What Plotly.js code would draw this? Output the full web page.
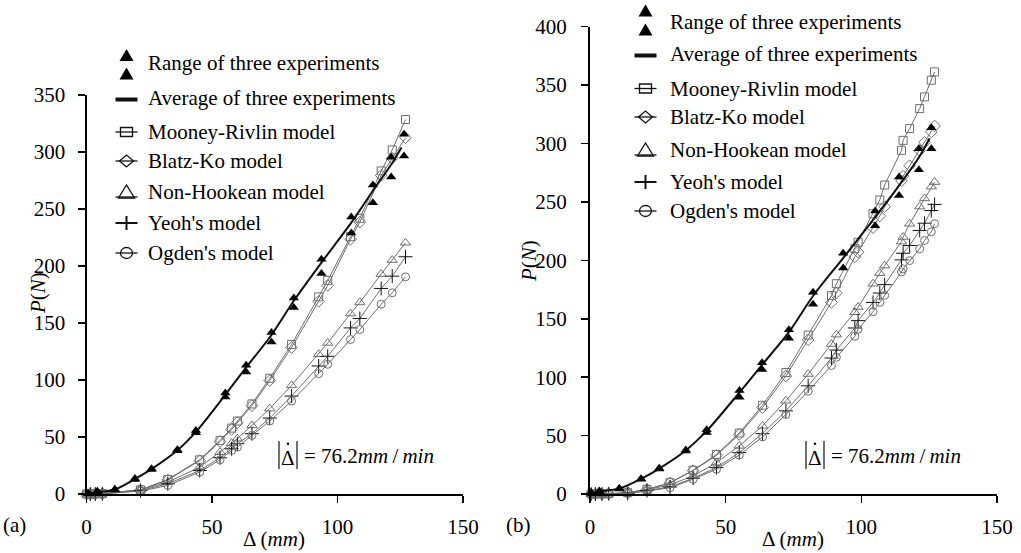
<!DOCTYPE html>
<html>
<head>
<meta charset="utf-8">
<script src="https://cdn.plot.ly/plotly-3.0.1.min.js"></script>
<style>
  html, body { margin: 0; padding: 0; background: #fff; }
  #chart { width: 1021px; height: 553px; }
</style>
</head>
<body>
<div id="chart"></div>
<script>
// ---- Panel (a): experiments ----
const dispExpA  = [0.7, 4.3, 11.3, 19.3, 25.9, 36.2, 43.6, 55.3, 63.6, 73.7, 82.6, 93.6, 105.5, 114.1, 121.4, 126.5];
const upperExpA = [0.7, 2.5, 4.2, 13.5, 22.1, 38.8, 55.8, 88.6, 112.9, 141.7, 172, 206, 243, 271, 295.4, 315.6];
const lowerExpA = [0.3, 1.5, 3.5, 12.7, 21.5, 38.0, 53.8, 85.0, 107.0, 133.4, 163.6, 193.5, 229, 255.5, 278, 296.6];
const dispAvgA  = [0, 4.3, 11.3, 19.3, 25.9, 36.2, 43.6, 55.3, 63.6, 73.7, 82.6, 93.6, 105.5, 114.1, 121.4, 125.5];
const avgExpA   = [0, 1.5, 4, 13.2, 21.8, 38.3, 54.5, 87, 111, 139.5, 169.5, 203, 238, 266, 289, 304];

// ---- Panel (a): hyperelastic models ----
const dispModA   = [0, 1.5, 3.5, 6.3, 21.5, 32.4, 45.1, 53.2, 57.8, 60.1, 65.9, 73, 81.7, 92.5, 96.1, 105.2, 108.9, 117.4, 121.8, 127.1];
const mooneyA    = [0, 0, 0, 0.3, 3.7, 12.7, 30, 47, 57.8, 64, 79, 101.5, 131.2, 172.9, 187.4, 225.7, 241.8, 283.4, 301.8, 328.5];
const blatzA     = [0, 0, 0, 0.3, 3.5, 12.3, 29.3, 46, 56.6, 62.6, 77.5, 99.5, 128.5, 169, 183, 223.5, 238.5, 279.5, 294.5, 312.5];
const neoHookA   = [0, 0, 0, 0.2, 3.7, 10.4, 23.5, 36.7, 44.6, 48.5, 60.2, 74.9, 95.3, 122.6, 132.5, 158.3, 168, 192.9, 205.2, 220.4];
const yeohA      = [0, 0, 0, 0.2, 3, 9, 20.6, 31.8, 39.7, 44.1, 52.9, 66.6, 85.9, 112.3, 120.8, 145.7, 154, 180.3, 191.1, 208.1];
const ogdenA     = [0, 0, 0, 0.2, 2.5, 7.5, 19.2, 30, 38.2, 41.1, 51.4, 64, 81.5, 105.6, 113.8, 135.5, 144.3, 166.5, 176.5, 190.5];

// ---- Panel (b): experiments ----
const dispExpB  = [0.4, 3.4, 10.8, 18.8, 25.5, 35.3, 43, 55.1, 63.4, 73.3, 82.2, 93.3, 105.1, 113.9, 121.2, 125.8];
const upperExpB = [1, 2.6, 4.9, 13.1, 22, 37.7, 54.9, 88.7, 112.3, 140.6, 172.6, 206.1, 242.3, 271.3, 295.6, 313.6];
const lowerExpB = [0.5, 2, 4.2, 12.6, 21.5, 36.9, 52.6, 82.9, 106.5, 133.3, 162.4, 193.4, 229.6, 255.6, 277.6, 295.6];
const dispAvgB  = [0, 3.4, 10.8, 18.8, 25.5, 35.3, 43, 55.1, 63.4, 73.3, 82.2, 93.3, 105.1, 113.9, 121.2, 125.2];
const avgExpB   = [0, 2.3, 4.6, 12.9, 21.8, 37.3, 54, 87, 110.5, 138.5, 169.5, 202, 237, 264, 288, 304.5];

// ---- Panel (b): hyperelastic models ----
const dispModB   = [0.4, 2, 4.4, 6.9, 13.9, 21, 29.5, 38, 46.6, 55, 63.6, 72.2, 80.4, 89, 90.8, 97.6, 98.8, 104.3, 106.8, 108.6, 114.8, 115.4, 117.8, 121.5, 123.3, 125.8, 127];
const mooneyB    = [0, 0, 0, 0.3, 1.1, 4, 9.7, 20.3, 33.8, 52.2, 76, 104, 136, 169.8, 180, 210, 215.5, 239.9, 251.7, 264.5, 294.2, 302.7, 312.8, 329.9, 339.9, 354.2, 361.3];
const blatzB     = [0, 0, 0, 0.3, 1.1, 3.9, 9.5, 20, 33, 51, 74, 101, 132, 164, 172, 203, 207, 228, 238, 246, 268, 272, 281, 294, 301, 310, 315];
const neoHookB   = [0, 0, 0, 0.2, 0.8, 3.5, 8, 15.4, 26.8, 41.2, 58.3, 79.8, 102.7, 128.4, 136.4, 155.5, 160, 180, 189, 195.5, 216, 220, 231.3, 246, 253, 263.1, 267];
const yeohB      = [0, 0, 0, 0.2, 0.6, 3, 6, 13.5, 22.6, 35.4, 51.7, 71.2, 92.6, 116.4, 123.2, 142.1, 148.4, 164, 172, 179.2, 200.4, 206.1, 212.7, 225.6, 231.8, 242.7, 247.9];
const ogdenB     = [0, 0, 0, 0.2, 0.5, 2.5, 5.4, 12.6, 21.2, 33.4, 48.9, 68, 88, 110, 117, 135, 141, 156, 164, 170, 190, 192.7, 199.8, 209.9, 217, 224.4, 231.3];

const xTicks = [0, 50, 100, 150];
const yTicksA = [0, 50, 100, 150, 200, 250, 300, 350];
const yTicksB = [0, 50, 100, 150, 200, 250, 300, 350, 400];

const legendNames = ['Range of three experiments', 'Average of three experiments',
  'Mooney-Rivlin model', 'Blatz-Ko model', 'Non-Hookean model', "Yeoh's model", "Ogden's model"];
const rateText = '= 76.2<i>mm</i>\u2009/\u2009<i>min</i>';

// ---- styling ----
const FONT = '"Liberation Serif", "DejaVu Serif", "Times New Roman", serif';
const GRAY = '#6e6e6e';
const W = 1021, H = 553;
const PX = p => p / W;
const PY = p => 1 - p / H;

function modelTrace(x, y, name, symbol, color, xa, ya, size) {
  return {
    x: x, y: y, name: name, xaxis: xa, yaxis: ya, type: 'scatter', mode: 'lines+markers',
    line: {color: GRAY, width: 1},
    marker: {symbol: symbol, size: size || 8, color: color, line: {color: color, width: 1}},
    cliponaxis: false, showlegend: false
  };
}

function panelTraces(xa, ya, d) {
  return [
    modelTrace(d.xm, d.mr, legendNames[2], 'square-open', GRAY, xa, ya, 8),
    modelTrace(d.xm, d.bk, legendNames[3], 'diamond-open', GRAY, xa, ya, 9),
    modelTrace(d.xm, d.nh, legendNames[4], 'triangle-up-open', GRAY, xa, ya, 9),
    modelTrace(d.xm, d.ye, legendNames[5], 'cross-thin-open', '#111', xa, ya, 10),
    modelTrace(d.xm, d.og, legendNames[6], 'circle-open', GRAY, xa, ya, 8),
    {x: d.xa, y: d.avg, name: legendNames[1], xaxis: xa, yaxis: ya, type: 'scatter', mode: 'lines',
     line: {color: '#111', width: 2, shape: 'spline', smoothing: 0.8}, cliponaxis: false, showlegend: false},
    {x: d.xe, y: d.up, name: legendNames[0], xaxis: xa, yaxis: ya, type: 'scatter', mode: 'markers',
     marker: {symbol: 'triangle-up', size: 9, color: '#000'}, cliponaxis: false, showlegend: false},
    {x: d.xe, y: d.lo, name: legendNames[0], xaxis: xa, yaxis: ya, type: 'scatter', mode: 'markers',
     marker: {symbol: 'triangle-up', size: 9, color: '#000'}, cliponaxis: false, showlegend: false}
  ];
}

const data = [].concat(
  panelTraces('x', 'y', {xm: dispModA, mr: mooneyA, bk: blatzA, nh: neoHookA, ye: yeohA, og: ogdenA,
                         xa: dispAvgA, avg: avgExpA, xe: dispExpA, up: upperExpA, lo: lowerExpA}),
  panelTraces('x2', 'y2', {xm: dispModB, mr: mooneyB, bk: blatzB, nh: neoHookB, ye: yeohB, og: ogdenB,
                           xa: dispAvgB, avg: avgExpB, xe: dispExpB, up: upperExpB, lo: lowerExpB})
);

function axisStyle(extra) {
  return Object.assign({
    showline: true, linecolor: '#000', linewidth: 2, mirror: false,
    ticks: 'outside', ticklen: 7, tickwidth: 1.5, tickcolor: '#000',
    showgrid: false, zeroline: false, fixedrange: true,
    tickfont: {family: FONT, size: 21, color: '#000'}
  }, extra);
}

// ---- hand-drawn legend glyphs (paper coordinates, pixel based) ----
const shapes = [];
const annotations = [];
const LINE = {color: '#111', width: 1.3};

function poly(pts, fill) {
  const d = pts.map((p, i) => (i ? 'L' : 'M') + PX(p[0]) + ',' + PY(p[1])).join(' ') + ' Z';
  shapes.push({type: 'path', xref: 'paper', yref: 'paper', path: d,
               line: fill ? {color: '#000', width: 0} : LINE, fillcolor: fill ? '#000' : 'rgba(0,0,0,0)'});
}
function seg(x0, y0, x1, y1, w) {
  shapes.push({type: 'line', xref: 'paper', yref: 'paper', x0: PX(x0), y0: PY(y0), x1: PX(x1), y1: PY(y1),
               line: {color: '#111', width: w || 1.3}});
}
function label(x, y, text) {
  annotations.push({xref: 'paper', yref: 'paper', x: PX(x), y: PY(y), xanchor: 'left', yanchor: 'middle',
                    text: text, showarrow: false, font: {family: FONT, size: 21, color: '#000'}});
}

function legendBlock(cx, tx, rows) {
  // range: two filled triangles
  rows.tri.forEach(ty => poly([[cx - 7, ty + 6], [cx + 7, ty + 6], [cx, ty - 6]], true));
  label(tx, rows.range, legendNames[0]);
  // average: thick bar
  seg(cx - 11, rows.avg, cx + 11, rows.avg, 4);
  label(tx, rows.avg - 1.5, legendNames[1]);
  // Mooney-Rivlin: line + square
  seg(cx - 11, rows.mr, cx + 11, rows.mr);
  poly([[cx - 6, rows.mr - 4.5], [cx + 6, rows.mr - 4.5], [cx + 6, rows.mr + 4.5], [cx - 6, rows.mr + 4.5]], false);
  label(tx, rows.mr, legendNames[2]);
  // Blatz-Ko: line + diamond
  seg(cx - 11, rows.bk, cx + 11, rows.bk);
  poly([[cx - 7, rows.bk], [cx, rows.bk - 6], [cx + 7, rows.bk], [cx, rows.bk + 6]], false);
  label(tx, rows.bk, legendNames[3]);
  // Non-Hookean: line + open triangle
  seg(cx - 11, rows.nh + 5, cx + 11, rows.nh + 5);
  poly([[cx - 8, rows.nh + 6], [cx + 8, rows.nh + 6], [cx, rows.nh - 7]], false);
  label(tx, rows.nh, legendNames[4]);
  // Yeoh: plus
  seg(cx - 11, rows.ye, cx + 11, rows.ye, 2);
  seg(cx, rows.ye - 7, cx, rows.ye + 7, 2);
  label(tx, rows.ye, legendNames[5]);
  // Ogden: line + circle
  seg(cx - 11, rows.og, cx + 11, rows.og);
  shapes.push({type: 'circle', xref: 'paper', yref: 'paper', x0: PX(cx - 6), x1: PX(cx + 6),
               y0: PY(rows.og + 5.5), y1: PY(rows.og - 5.5), line: LINE});
  label(tx, rows.og, legendNames[6]);
}

legendBlock(126.5, 146, {tri: [55, 73.5], range: 63.5, avg: 99.5, mr: 132, bk: 161, nh: 192, ye: 223, og: 253});
legendBlock(645.5, 668, {tri: [10.5, 29.5], range: 21.5, avg: 55.5, mr: 88.5, bk: 117, nh: 150, ye: 182, og: 211});

// axis titles, panel labels and loading-rate notes
function text(x, y, t, opts) {
  annotations.push(Object.assign({xref: 'paper', yref: 'paper', x: PX(x), y: PY(y), xanchor: 'center', yanchor: 'middle',
                    text: t, showarrow: false, font: {family: FONT, size: 21, color: '#000'}}, opts || {}));
}
text(274, 539, 'Δ (<i>mm</i>)');
text(793, 539, 'Δ (<i>mm</i>)');
text(38, 293, '<i>P</i>(<i>N</i>)', {textangle: -90});
text(529, 261, '<i>P</i>(<i>N</i>)', {textangle: -90});
text(14, 525, '(a)');
text(518, 525, '(b)');

// |Δ̇| = 76.2 mm/min : tall bars and the rate dot are drawn as shapes
function rateNote(xl, yc) {
  seg(xl, yc - 14, xl, yc + 14, 1.2);
  text(xl + 9, yc + 3, 'Δ');
  shapes.push({type: 'circle', xref: 'paper', yref: 'paper', x0: PX(xl + 7.8), x1: PX(xl + 10.2),
               y0: PY(yc - 10), y1: PY(yc - 12.4), fillcolor: '#000', line: {color: '#000', width: 0}});
  seg(xl + 18, yc - 14, xl + 18, yc + 14, 1.2);
  text(xl + 23, yc + 1, rateText, {xanchor: 'left'});
}
rateNote(279, 455);
rateNote(806, 455);

const layout = {
  width: W, height: H,
  margin: {l: 0, r: 0, t: 0, b: 0},
  paper_bgcolor: '#fff', plot_bgcolor: 'rgba(0,0,0,0)',
  showlegend: false,
  font: {family: FONT, size: 21, color: '#000'},
  xaxis: axisStyle({domain: [PX(86.5), PX(463)], range: [0, 150], tickvals: xTicks, anchor: 'y', ticklabelstandoff: 6}),
  yaxis: axisStyle({domain: [PY(494), PY(95)], range: [0, 350], tickvals: yTicksA, anchor: 'x', ticklabelstandoff: 8}),
  xaxis2: axisStyle({domain: [PX(590), PX(997)], range: [0, 150], tickvals: xTicks, anchor: 'y2', ticklabelstandoff: 6}),
  yaxis2: axisStyle({domain: [PY(494), PY(26.7)], range: [0, 400], tickvals: yTicksB, anchor: 'x2', ticklabelstandoff: 10}),
  shapes: shapes,
  annotations: annotations
};

Plotly.newPlot('chart', data, layout, {staticPlot: true, displayModeBar: false});
</script>
</body>
</html>
